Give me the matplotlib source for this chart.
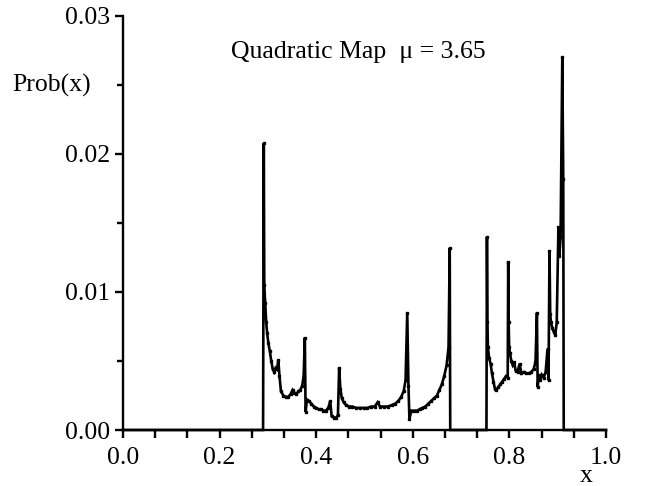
import matplotlib
matplotlib.use("Agg")
import matplotlib.pyplot as plt
from matplotlib.ticker import MultipleLocator, FixedLocator

x_vals = [0.000, 0.290, 0.2915, 0.2925, 0.2945, 0.2965, 0.2985, 0.301, 0.304, 0.307,
          0.310, 0.313, 0.316, 0.319, 0.3215, 0.324, 0.327, 0.332, 0.337, 0.342,
          0.347, 0.351, 0.355, 0.359, 0.363, 0.367, 0.371, 0.374, 0.3765, 0.378,
          0.381, 0.385, 0.390, 0.395, 0.400, 0.405, 0.410, 0.415, 0.420, 0.425,
          0.429, 0.432, 0.437, 0.442, 0.445, 0.4475, 0.450, 0.453, 0.457, 0.462,
          0.468, 0.475, 0.482, 0.490, 0.498, 0.506, 0.514, 0.521, 0.527, 0.532,
          0.540, 0.548, 0.556, 0.563, 0.570, 0.576, 0.581, 0.585, 0.5885, 0.591,
          0.593, 0.597, 0.603, 0.609, 0.614, 0.620, 0.626, 0.632, 0.638, 0.644,
          0.650, 0.655, 0.660, 0.665, 0.670, 0.674, 0.6765, 0.6775, 0.7525, 0.7535,
          0.7545, 0.7555, 0.758, 0.761, 0.764, 0.767, 0.770, 0.773, 0.777, 0.781,
          0.785, 0.789, 0.793, 0.7965, 0.7975, 0.7985, 0.7995, 0.801, 0.804, 0.807,
          0.810, 0.813, 0.817, 0.821, 0.825, 0.830, 0.835, 0.840, 0.845, 0.850,
          0.854, 0.857, 0.8585, 0.861, 0.864, 0.867, 0.871, 0.875, 0.879, 0.881,
          0.883, 0.8845, 0.886, 0.889, 0.892, 0.895, 0.898, 0.9015, 0.9035, 0.906,
          0.9095, 0.9115, 0.9125, 1.000]

prob_vals = [0.0, 0.0, 0.0208, 0.0105, 0.0092, 0.0078, 0.0070, 0.0063, 0.0057, 0.0050,
             0.0044, 0.0042, 0.0045, 0.0044, 0.0051, 0.0039, 0.0028, 0.0025, 0.0024, 0.0024,
             0.0026, 0.0029, 0.0027, 0.0026, 0.0028, 0.0029, 0.0032, 0.0039, 0.0067, 0.0013,
             0.0022, 0.0021, 0.0019, 0.0017, 0.0016, 0.0015, 0.0015, 0.0014, 0.0014, 0.0016,
             0.0021, 0.0010, 0.0009, 0.0009, 0.0011, 0.0045, 0.0030, 0.0023, 0.0020, 0.0018,
             0.0017, 0.0017, 0.0016, 0.0016, 0.0016, 0.0016, 0.0017, 0.0017, 0.0020, 0.0017,
             0.0017, 0.0017, 0.0018, 0.0019, 0.0021, 0.0024, 0.0028, 0.0036, 0.0085, 0.0032,
             0.0008, 0.0014, 0.0014, 0.0014, 0.0015, 0.0016, 0.0017, 0.0019, 0.0021, 0.0023,
             0.0025, 0.0029, 0.0033, 0.0039, 0.0047, 0.0060, 0.0132, 0.0, 0.0, 0.0140,
             0.0078, 0.0060, 0.0052, 0.0048, 0.0041, 0.0035, 0.0030, 0.0029, 0.0031, 0.0033,
             0.0035, 0.0037, 0.0039, 0.0038, 0.0122, 0.0078, 0.0060, 0.0056, 0.0050, 0.0047,
             0.0049, 0.0043, 0.0042, 0.0048, 0.0041, 0.0042, 0.0041, 0.0041, 0.0042, 0.0044,
             0.0049, 0.0085, 0.0031, 0.0040, 0.0036, 0.0040, 0.0038, 0.0042, 0.0059, 0.0036,
             0.0130, 0.0084, 0.0078, 0.0074, 0.0071, 0.0069, 0.0078, 0.0147, 0.0126, 0.0140,
             0.0270, 0.0182, 0.0, 0.0]

y_ticks = [0.00, 0.01, 0.02, 0.03]
y_tick_labels = ["0.00", "0.01", "0.02", "0.03"]
x_ticks = [0.0, 0.2, 0.4, 0.6, 0.8, 1.0]
x_tick_labels = ["0.0", "0.2", "0.4", "0.6", "0.8", "1.0"]

plt.rcParams['font.family'] = ['Liberation Serif', 'DejaVu Serif']
FS = 18.5

fig = plt.figure(figsize=(6.56, 4.86), dpi=100)
ax = fig.add_axes([123/656, 1 - 430/486, (606-123)/656, (430-16)/486])

ax.plot(x_vals, prob_vals, color='black', lw=1.9, solid_joinstyle='miter', clip_on=False)
mx = [xv for xv, pv in zip(x_vals, prob_vals) if pv > 0]
my = [pv for pv in prob_vals if pv > 0]
ax.plot(mx, my, linestyle='none', color='black', marker='s', markersize=1.8, clip_on=False)

ax.set_xlim(0, 1)
ax.set_ylim(0, 0.03)
ax.spines['top'].set_visible(False)
ax.spines['right'].set_visible(False)
ax.spines['left'].set_linewidth(1.7)
ax.spines['bottom'].set_linewidth(1.7)

ax.yaxis.set_major_locator(FixedLocator(y_ticks))
ax.set_yticklabels(y_tick_labels)
ax.yaxis.set_minor_locator(MultipleLocator(0.005))
ax.xaxis.set_major_locator(FixedLocator(x_ticks))
ax.set_xticklabels(x_tick_labels)
ax.xaxis.set_minor_locator(MultipleLocator(0.2/3))

ax.tick_params(axis='y', which='major', direction='out', length=6, width=1.7,
               labelsize=FS, pad=3)
ax.tick_params(axis='x', which='major', direction='out', length=6, width=1.7,
               labelsize=FS, pad=6)
ax.tick_params(axis='y', which='minor', direction='out', length=4, width=1.7)
ax.tick_params(axis='x', which='minor', direction='out', length=6, width=1.7)

ax.text(0.488, 0.0274, "Quadratic Map  \u03bc = 3.65", fontsize=FS, ha='center', va='center')
fig.text(12/656, 1 - 85/486, "Prob(x)", fontsize=FS, ha='left', va='center')
fig.text(586/656, 1 - 476/486, "x", fontsize=FS, ha='center', va='center')

fig.savefig("out.png", dpi=100)
